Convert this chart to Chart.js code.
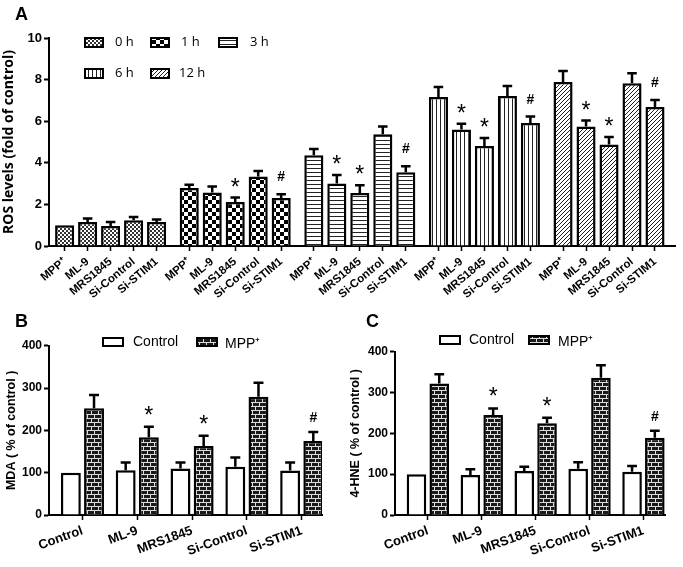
<!DOCTYPE html>
<html>
<head>
<meta charset="utf-8">
<script src="https://cdn.jsdelivr.net/npm/chart.js@4.4.0/dist/chart.umd.min.js"></script>
<style>
body { margin: 0; background: #fff; width: 683px; height: 567px; position: relative; overflow: hidden; }
canvas { position: absolute; }
.letter { position: absolute; font-family: "Liberation Sans", Arial, sans-serif; font-weight: bold; font-size: 18px; line-height: 18px; }
</style>
</head>
<body>
<canvas id="chartA" width="683" height="335" style="left:0;top:0"></canvas>
<canvas id="chartB" width="340" height="237" style="left:0;top:330px"></canvas>
<canvas id="chartC" width="343" height="237" style="left:340px;top:330px"></canvas>
<div class="letter" style="left:15px;top:5px">A</div>
<div class="letter" style="left:15px;top:312px">B</div>
<div class="letter" style="left:366px;top:312px">C</div>
<script>
// panel A data: ROS at each time point
let treatments = ['MPP⁺', 'ML-9', 'MRS1845', 'Si-Control', 'Si-STIM1'];
let timePoints = ['0 h', '1 h', '3 h', '6 h', '12 h'];
let ros0h  = [1.00, 1.15, 0.96, 1.24, 1.15];
let ros1h  = [2.79, 2.57, 2.12, 3.34, 2.31];
let ros3h  = [4.36, 3.00, 2.55, 5.37, 3.54];
let ros6h  = [7.16, 5.60, 4.81, 7.21, 5.91];
let ros12h = [7.88, 5.75, 4.88, 7.82, 6.68];
let rosErr0h  = [0, 0.17, 0.19, 0.15, 0.13];
let rosErr1h  = [0.16, 0.29, 0.21, 0.27, 0.18];
let rosErr3h  = [0.30, 0.41, 0.37, 0.38, 0.29];
let rosErr6h  = [0.48, 0.28, 0.38, 0.48, 0.31];
let rosErr12h = [0.53, 0.28, 0.36, 0.48, 0.34];
let rosMarks0h  = ['', '', '', '', ''];
let rosMarks1h  = ['', '', '*', '', '#'];
let rosMarks3h  = ['', '*', '*', '', '#'];
let rosMarks6h  = ['', '*', '*', '', '#'];
let rosMarks12h = ['', '*', '*', '', '#'];

// panels B and C
let groups = ['Control', 'ML-9', 'MRS1845', 'Si-Control', 'Si-STIM1'];
let seriesNames = ['Control', 'MPP⁺'];
let mdaControl = [100, 106, 110, 114, 105];
let mdaControlErr = [0, 18, 14, 22, 19];
let mdaMpp = [252, 183.5, 163, 279.5, 175];
let mdaMppErr = [31.5, 25, 24.5, 33, 21];
let mdaMarks = ['', '*', '*', '', '#'];
let hneControl = [100, 98, 108, 113, 106];
let hneControlErr = [0, 14, 10, 16, 14];
let hneMpp = [322, 245, 224.5, 336, 189];
let hneMppErr = [22.5, 16, 13.5, 31, 17.5];
let hneMarks = ['', '*', '*', '', '#'];

Chart.defaults.font.family = '"Liberation Sans", Arial, sans-serif';
Chart.defaults.color = '#000';

// fill patterns
function makePattern(w, h, draw) {
	let c = document.createElement('canvas');
	c.width = w; c.height = h;
	let g = c.getContext('2d');
	g.fillStyle = '#fff';
	g.fillRect(0, 0, w, h);
	draw(g);
	return document.createElement('canvas').getContext('2d').createPattern(c, 'repeat');
}

let patFine = makePattern(4, 4, g => {
	g.fillStyle = '#333';
	g.fillRect(0, 0, 2, 2);
	g.fillRect(2, 2, 2, 2);
});
let patChecker = makePattern(8, 8, g => {
	g.fillStyle = '#000';
	g.fillRect(0, 0, 4, 4);
	g.fillRect(4, 4, 4, 4);
});
let patHoriz = makePattern(4, 4, g => {
	g.fillStyle = '#222';
	g.fillRect(0, 0, 4, 1);
});
let patVert = makePattern(4, 4, g => {
	g.fillStyle = '#222';
	g.fillRect(0, 0, 1, 4);
});
let patDiag = makePattern(4, 4, g => {
	g.strokeStyle = '#222';
	g.lineWidth = 1;
	g.beginPath();
	g.moveTo(-1, 5); g.lineTo(5, -1);
	g.moveTo(-1, 1); g.lineTo(1, -1);
	g.moveTo(3, 5); g.lineTo(5, 3);
	g.stroke();
});
let patBrick = makePattern(14, 8, g => {
	g.fillStyle = '#1a1a1a';
	g.fillRect(0, 0, 14, 8);
	g.fillStyle = '#ddd';
	g.fillRect(0, 0, 14, 1);
	g.fillRect(0, 4, 14, 1);
	g.fillRect(0, 0, 1, 4);
	g.fillRect(7, 0, 1, 4);
	g.fillRect(3, 4, 1, 4);
	g.fillRect(10, 4, 1, 4);
});

// error bars and significance marks
let errorBars = {
	id: 'errorBars',
	afterDatasetsDraw(chart, args, opts) {
		let ctx = chart.ctx;
		let yScale = chart.scales.y;
		chart.data.datasets.forEach((ds, di) => {
			let meta = chart.getDatasetMeta(di);
			meta.data.forEach((bar, i) => {
				let raw = ds.data[i];
				let v = typeof raw === 'object' ? raw.y : raw;
				let e = ds.errors[i];
				let top = yScale.getPixelForValue(v + e);
				ctx.save();
				ctx.strokeStyle = '#000';
				ctx.lineWidth = 2.5;
				if (e > 0) {
					let half = bar.width / 4;
					ctx.beginPath();
					ctx.moveTo(bar.x, bar.y);
					ctx.lineTo(bar.x, top);
					ctx.moveTo(bar.x - half, top);
					ctx.lineTo(bar.x + half, top);
					ctx.stroke();
				}
				let m = ds.marks && ds.marks[i];
				if (m) {
					ctx.fillStyle = '#000';
					ctx.textAlign = 'center';
					ctx.textBaseline = 'alphabetic';
					if (m === '*') {
						ctx.font = '23px "Liberation Sans", Arial';
						ctx.fillText(m, bar.x, top - opts.starGap);
					} else {
						ctx.font = 'bold 14px "Liberation Sans", Arial';
						ctx.fillText(m, bar.x, top - opts.hashGap);
					}
				}
				ctx.restore();
			});
		});
	}
};

// legend drawn inside the plot
let boxLegend = {
	id: 'boxLegend',
	afterDraw(chart, args, opts) {
		let ctx = chart.ctx;
		ctx.save();
		opts.items.forEach((it, i) => {
			let ds = chart.data.datasets[i];
			ctx.fillStyle = ds.backgroundColor;
			ctx.fillRect(it.x, it.y, opts.w, opts.h);
			ctx.strokeStyle = '#000';
			ctx.lineWidth = 2;
			ctx.strokeRect(it.x, it.y, opts.w, opts.h);
			ctx.fillStyle = '#000';
			ctx.font = opts.font;
			ctx.textAlign = 'left';
			ctx.textBaseline = 'middle';
			ctx.fillText(ds.label, it.tx, it.y + opts.h / 2 + (it.dy || 0));
		});
		ctx.restore();
	}
};

// ---- panel A ----
const GROUP_STEP = 5.42;
let rosSeries = [ros0h, ros1h, ros3h, ros6h, ros12h];
let rosErrs = [rosErr0h, rosErr1h, rosErr3h, rosErr6h, rosErr12h];
let rosMarks = [rosMarks0h, rosMarks1h, rosMarks3h, rosMarks6h, rosMarks12h];
let rosPatterns = [patFine, patChecker, patHoriz, patVert, patDiag];
let barPositions = [];
timePoints.forEach((t, g) => treatments.forEach((n, i) => barPositions.push(g * GROUP_STEP + i)));

let ctxA = document.getElementById('chartA').getContext('2d');
new Chart(ctxA, {
	type: 'bar',
	data: {
		datasets: timePoints.map((t, g) => ({
			label: t,
			data: rosSeries[g].map((v, i) => ({ x: g * GROUP_STEP + i, y: v })),
			errors: rosErrs[g],
			marks: rosMarks[g],
			backgroundColor: rosPatterns[g],
			borderColor: '#000',
			borderWidth: 2.5,
			grouped: false,
			categoryPercentage: 1,
			barPercentage: 0.83
		}))
	},
	options: {
		responsive: false,
		animation: false,
		layout: { padding: { top: 38, right: 8, left: 0, bottom: 0 } },
		plugins: {
			legend: { display: false },
			tooltip: { enabled: false },
			errorBars: { starGap: 3, hashGap: 13 },
			boxLegend: {
				w: 18, h: 9, font: '13px "Open Sans"',
				items: [
					{ x: 85, y: 38, tx: 115 },
					{ x: 151, y: 38, tx: 181 },
					{ x: 219, y: 38, tx: 250 },
					{ x: 85, y: 69, tx: 115 },
					{ x: 151, y: 69, tx: 179 }
				]
			}
		},
		scales: {
			x: {
				type: 'linear', min: -0.68, max: 26.55, offset: false,
				afterBuildTicks: s => { s.ticks = barPositions.map(v => ({ value: v })); },
				afterFit: s => { s.height = 89; },
				grid: { display: true, offset: false, drawOnChartArea: false, tickLength: 5, tickColor: '#000', tickWidth: 1.5 },
				border: { color: '#000', width: 2 },
				ticks: {
					autoSkip: false, minRotation: 40, maxRotation: 40, padding: 4,
					font: { weight: 'bold', size: 11.5 },
					callback: (v, i) => treatments[i % treatments.length]
				}
			},
			y: {
				min: 0, max: 10,
				afterFit: s => { s.width = 49; },
				grid: { drawOnChartArea: false, tickLength: 5, tickColor: '#000', tickWidth: 2 },
				border: { color: '#000', width: 2 },
				ticks: { stepSize: 2, padding: 2, font: { weight: 'bold', size: 13 } },
				title: { display: true, text: 'ROS levels (fold of control)', font: { family: '"Open Sans"', weight: 'bold', size: 14 }, padding: { top: 1, bottom: 0 } }
			}
		}
	},
	plugins: [errorBars, boxLegend]
});

// ---- panels B and C ----
function pairChart(id, title, ctrl, ctrlErr, mpp, mppErr, marks, box) {
	let ctx = document.getElementById(id).getContext('2d');
	return new Chart(ctx, {
		type: 'bar',
		data: {
			datasets: [
				{ label: seriesNames[0], data: ctrl.map((v, i) => ({ x: i, y: v })), errors: ctrlErr, marks: [],
				  backgroundColor: '#fff', borderColor: '#000', borderWidth: 2.5 },
				{ label: seriesNames[1], data: mpp.map((v, i) => ({ x: i, y: v })), errors: mppErr, marks: marks,
				  backgroundColor: patBrick, borderColor: '#000', borderWidth: 2.5 }
			]
		},
		options: {
			responsive: false,
			animation: false,
			datasets: { bar: { categoryPercentage: 0.845, barPercentage: 0.86 } },
			layout: { padding: { top: box.top, right: box.right, left: 0, bottom: 0 } },
			plugins: {
				legend: { display: false },
				tooltip: { enabled: false },
				errorBars: { starGap: 4, hashGap: 10 },
				boxLegend: {
					w: 20, h: 8, font: '14px "Liberation Sans", Arial',
					items: box.legend
				}
			},
			scales: {
				x: {
					type: 'linear', min: box.min, max: box.max, offset: false,
					afterBuildTicks: s => { s.ticks = groups.map((g, i) => ({ value: i })); },
					afterFit: s => { s.height = 52; },
					grid: { display: true, offset: false, drawOnChartArea: false, tickLength: 5, tickColor: '#000', tickWidth: 1.5 },
					border: { color: '#000', width: 2 },
					ticks: {
						autoSkip: false, minRotation: 20, maxRotation: 20, padding: 3,
						font: { weight: 'bold', size: 13 },
						callback: (v, i) => groups[i]
					}
				},
				y: {
					min: 0, max: 400,
					afterFit: s => { s.width = box.left; },
					grid: { drawOnChartArea: false, tickLength: 5, tickColor: '#000', tickWidth: 2 },
					border: { color: '#000', width: 2 },
					ticks: { stepSize: 100, padding: 2, font: { weight: 'bold', size: 12 } },
					title: { display: true, text: title, font: { weight: 'bold', size: 12.5 }, padding: { top: box.titlePad, bottom: 0 } }
				}
			}
		},
		plugins: [errorBars, boxLegend]
	});
}

pairChart('chartB', 'MDA ( % of control )', mdaControl, mdaControlErr, mdaMpp, mdaMppErr, mdaMarks, {
	top: 15.7, right: 18, left: 49, min: -0.61, max: 4.37, titlePad: 4,
	legend: [{ x: 103, y: 8, tx: 133, dy: 0 }, { x: 197, y: 8, tx: 225, dy: 2 }]
});
pairChart('chartC', '4-HNE ( % of control )', hneControl, hneControlErr, hneMpp, hneMppErr, hneMarks, {
	top: 21.7, right: 18, left: 55, min: -0.61, max: 4.40, titlePad: 8,
	legend: [{ x: 100, y: 6, tx: 129, dy: 0 }, { x: 189, y: 6, tx: 218, dy: 2 }]
});
</script>
</body>
</html>
